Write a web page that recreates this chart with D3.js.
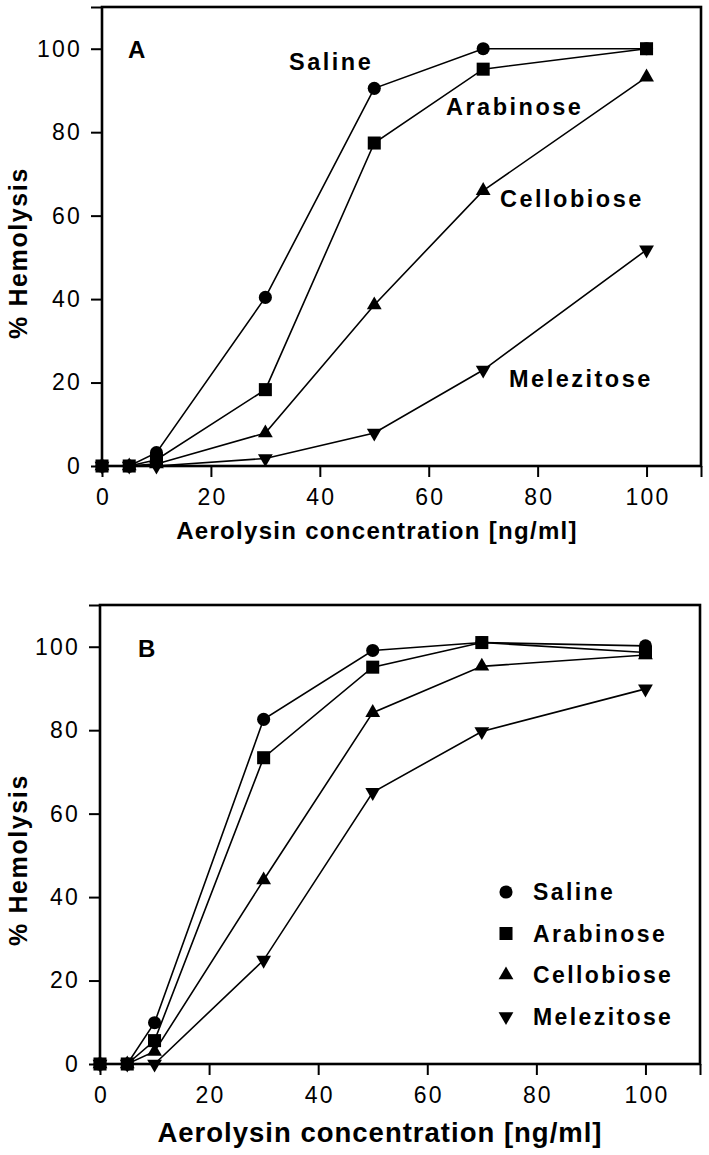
<!DOCTYPE html>
<html>
<head>
<meta charset="utf-8">
<script src="https://cdn.jsdelivr.net/npm/d3@7"></script>
<style>
  html, body { margin: 0; padding: 0; background: #fff; }
  svg { display: block; }
  text { font-family: "Liberation Sans", Arial, Helvetica, sans-serif; fill: #000; }
</style>
</head>
<body>
<svg id="chart" width="709" height="1155"></svg>
<script>
// ---- data ----
const concentrations = [0, 5, 10, 30, 50, 70, 100];
const seriesNames = ["Saline", "Arabinose", "Cellobiose", "Melezitose"];
const xTicks = [0, 20, 40, 60, 80, 100];
const yTicks = [0, 20, 40, 60, 80, 100];

// Panel A
const salineA     = [0, 0, 3.2, 40.4, 90.5, 100, 100];
const arabinoseA  = [0, 0, 1.5, 18.3, 77.4, 95.1, 100];
const cellobioseA = [0, 0, 0.5, 7.9, 38.6, 66.0, 93.2];
const melezitoseA = [0, 0, 0, 1.8, 7.9, 23.0, 51.8];

// Panel B
const salineB     = [0, 0, 9.9, 82.6, 99.1, 101, 100.2];
const arabinoseB  = [0, 0, 5.6, 73.4, 95.1, 101, 98.6];
const cellobioseB = [0, 0, 3.0, 44.1, 84.2, 95.3, 98.0];
const melezitoseB = [0, 0, 0, 24.9, 65.1, 79.7, 89.9];

const xTitle = "Aerolysin concentration [ng/ml]";
const yTitle = "% Hemolysis";

// ---- drawing ----
const svg = d3.select("#chart");

const symbolFor = {
  "Saline": d3.symbol().type(d3.symbolCircle).size(135),
  "Arabinose": d3.symbol().type(d3.symbolSquare).size(170),
  "Cellobiose": d3.symbol().type(d3.symbolTriangle).size(95),
  "Melezitose": d3.symbol().type(d3.symbolTriangle).size(95)
};
const rotFor = { "Saline": 0, "Arabinose": 0, "Cellobiose": 0, "Melezitose": 180 };
const drawOrder = ["Melezitose", "Cellobiose", "Saline", "Arabinose"];

function drawPanel(cfg) {
  const g = svg.append("g");
  const x = d3.scaleLinear().domain([0, 110]).range([cfg.left, cfg.right]);
  const y = d3.scaleLinear().domain([0, 110]).range([cfg.bottom, cfg.top]);

  // axes
  const xAxis = d3.axisBottom(x).tickValues(xTicks.concat([110])).tickSize(11).tickPadding(12)
    .tickFormat(d => d === 110 ? "" : d);
  const yAxis = d3.axisLeft(y).tickValues(yTicks.concat([110])).tickSize(11).tickPadding(11)
    .tickFormat(d => d === 110 ? "" : d);

  const gx = g.append("g").attr("transform", `translate(0,${cfg.bottom})`).call(xAxis);
  const gy = g.append("g").attr("transform", `translate(${cfg.left},0)`).call(yAxis);
  [gx, gy].forEach(a => {
    a.select(".domain").remove();
    a.selectAll(".tick line").attr("stroke", "#000").attr("stroke-width", 2);
    a.selectAll(".tick text")
      .style("font-size", "23px")
      .style("letter-spacing", "2.2px")
      .attr("fill", "#000");
  });
  // compensate trailing letter-spacing on y labels
  gy.selectAll(".tick text").attr("dx", "2px");
  gx.selectAll(".tick text").attr("dx", "1px");

  // frame
  g.append("rect")
    .attr("x", cfg.left).attr("y", cfg.top)
    .attr("width", cfg.right - cfg.left).attr("height", cfg.bottom - cfg.top)
    .attr("fill", "none").attr("stroke", "#000").attr("stroke-width", 2.6);

  const data = cfg.data;
  const line = d3.line().x((d, i) => x(concentrations[i])).y(d => y(d));

  drawOrder.forEach(name => {
    g.append("path")
      .attr("d", line(data[name]))
      .attr("fill", "none").attr("stroke", "#000").attr("stroke-width", 1.6);
  });
  drawOrder.forEach(name => {
    g.selectAll(null).data(data[name]).enter().append("path")
      .attr("d", symbolFor[name]())
      .attr("transform", (d, i) => `translate(${x(concentrations[i])},${y(d)}) rotate(${rotFor[name]})`)
      .attr("fill", "#000");
  });

  // panel letter
  g.append("text").attr("x", cfg.letterX).attr("y", cfg.letterY)
    .style("font-size", "24px").style("font-weight", "bold").text(cfg.letter);

  // axis titles
  g.append("text")
    .attr("x", cfg.xTitleX).attr("y", cfg.xTitleY)
    .attr("text-anchor", "middle")
    .style("font-size", cfg.xTitleSize + "px").style("font-weight", "bold")
    .style("letter-spacing", cfg.xTitleLs + "px")
    .text(xTitle);
  g.append("text")
    .attr("transform", `translate(${cfg.yTitleX},${cfg.yTitleY}) rotate(-90)`)
    .attr("text-anchor", "middle")
    .style("font-size", "25px").style("font-weight", "bold")
    .style("letter-spacing", "1.6px")
    .text(yTitle);
  return { g, x, y };
}

const pA = drawPanel({
  left: 102, right: 701, top: 7, bottom: 466,
  data: { "Saline": salineA, "Arabinose": arabinoseA, "Cellobiose": cellobioseA, "Melezitose": melezitoseA },
  letter: "A", letterX: 128, letterY: 58,
  xTitleX: 377, xTitleY: 539, xTitleSize: 24, xTitleLs: 1.3,
  yTitleX: 27, yTitleY: 253
});

// in-plot labels for panel A
const labelA = [
  { name: "Saline", x: 289, y: 70 },
  { name: "Arabinose", x: 446, y: 115 },
  { name: "Cellobiose", x: 500, y: 207 },
  { name: "Melezitose", x: 509, y: 387 }
];
labelA.forEach(l => {
  pA.g.append("text").attr("x", l.x).attr("y", l.y)
    .style("font-size", "23.5px").style("font-weight", "bold")
    .style("letter-spacing", "2.5px").text(l.name);
});

const pB = drawPanel({
  left: 100, right: 700, top: 605, bottom: 1064,
  data: { "Saline": salineB, "Arabinose": arabinoseB, "Cellobiose": cellobioseB, "Melezitose": melezitoseB },
  letter: "B", letterX: 138, letterY: 657,
  xTitleX: 380, xTitleY: 1142, xTitleSize: 27.5, xTitleLs: 1.0,
  yTitleX: 27, yTitleY: 860
});

// legend for panel B
const legend = pB.g.append("g");
seriesNames.forEach((name, i) => {
  const cy = 892 + i * 41.5;
  legend.append("path")
    .attr("d", symbolFor[name]())
    .attr("transform", `translate(506,${cy}) rotate(${rotFor[name]})`)
    .attr("fill", "#000");
  legend.append("text").attr("x", 533).attr("y", cy + 8)
    .style("font-size", "23px").style("font-weight", "bold")
    .style("letter-spacing", "2.4px").text(name);
});
</script>
</body>
</html>
